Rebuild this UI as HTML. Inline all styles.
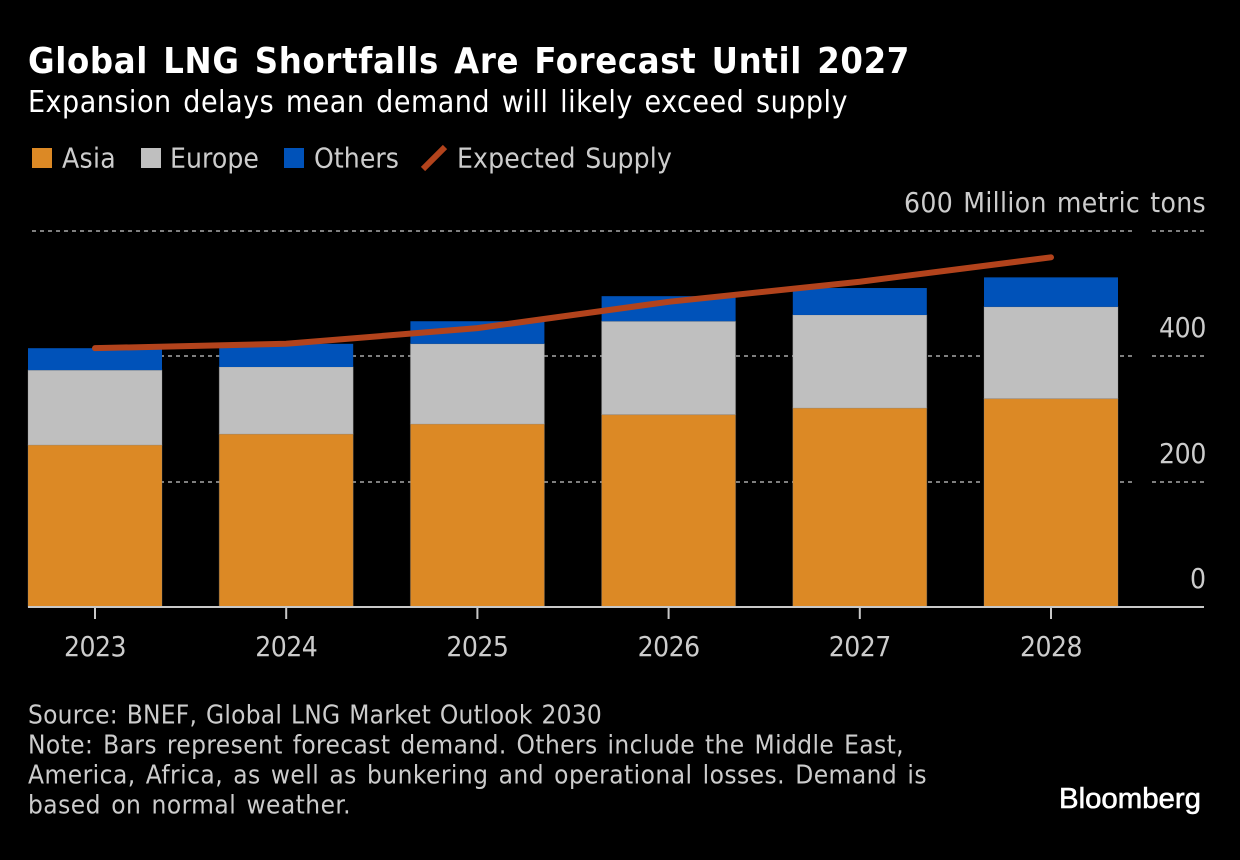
<!DOCTYPE html>
<html lang="en">
<head>
<meta charset="utf-8">
<title>Global LNG Shortfalls Are Forecast Until 2027</title>
<style>
html,body{margin:0;padding:0;background:#000;}
svg{display:block;}
text{font-family:"DejaVu Sans","Liberation Sans",sans-serif;font-stretch:condensed;}
</style>
</head>
<body>
<svg id="chart" width="1240" height="860" viewBox="0 0 1240 860" xmlns="http://www.w3.org/2000/svg">
<rect x="0" y="0" width="1240" height="860" fill="#000"/>
<text class="fit" data-w="882" x="28" y="73" font-size="36" font-weight="700" fill="#fff">Global LNG Shortfalls Are Forecast Until 2027</text>
<text class="fit" data-w="820" x="28" y="112" font-size="30" fill="#fff">Expansion delays mean demand will likely exceed supply</text>
<g>
<rect x="32" y="148" width="20" height="20" fill="#dc8925"/>
<text class="fit" data-w="54" x="62" y="167.5" font-size="28" fill="#cccccc">Asia</text>
<rect x="141" y="148" width="20" height="20" fill="#bfbfbf"/>
<text class="fit" data-w="89" x="170" y="167.5" font-size="28" fill="#cccccc">Europe</text>
<rect x="284" y="148" width="20" height="20" fill="#0052b9"/>
<text class="fit" data-w="85" x="314" y="167.5" font-size="28" fill="#cccccc">Others</text>
<line x1="423" y1="169" x2="445" y2="147" stroke="#b2431c" stroke-width="6"/>
<text class="fit" data-w="215" x="457" y="167.5" font-size="28" fill="#cccccc">Expected Supply</text>
</g>
<g id="grid"></g>
<g id="bars"></g>
<g id="axis"></g>
<g id="line"></g>
<text class="fit" data-w="574" x="28" y="723.5" font-size="26" fill="#cccccc">Source: BNEF, Global LNG Market Outlook 2030</text>
<text class="fit" data-w="876" x="28" y="753.5" font-size="26" fill="#cccccc">Note: Bars represent forecast demand. Others include the Middle East,</text>
<text class="fit" data-w="899" x="28" y="783.5" font-size="26" fill="#cccccc">America, Africa, as well as bunkering and operational losses. Demand is</text>
<text class="fit" data-w="323" x="28" y="813.5" font-size="26" fill="#cccccc">based on normal weather.</text>
<text x="1059" y="808" font-size="29" font-weight="400" fill="#fff" stroke="#fff" stroke-width="0.6" style="font-family:'Liberation Sans',sans-serif;font-stretch:normal" textLength="142" lengthAdjust="spacingAndGlyphs">Bloomberg</text>
</svg>
<script>
const years = ['2023', '2024', '2025', '2026', '2027', '2028'];
const asia = [258.5, 276, 292, 307, 317.5, 332.5];
const europe = [119.5, 107, 128, 149, 148.5, 146.5];
const others = [35, 37, 36, 40, 43, 47];
const expectedSupply = [413, 420, 445, 487, 519, 558];
const yTicks = [0, 200, 400, 600];
const yTickLabels = ['0', '200', '400', '600 Million metric tons'];
const yTickLabelWidths = [16, 47, 47, 302];

const NS = 'http://www.w3.org/2000/svg';
const plotLeft = 28, bandWidth = 191.2, barWidth = 134;
const yZero = 607, pxPerUnit = 376 / 600;
function xCenter(i) { return plotLeft + barWidth / 2 + i * bandWidth; }
function yScale(v) { return yZero - v * pxPerUnit; }
function make(tag, attrs, parent) {
  const el = document.createElementNS(NS, tag);
  for (const k in attrs) el.setAttribute(k, attrs[k]);
  parent.appendChild(el);
  return el;
}

const gridG = document.getElementById('grid');
const barsG = document.getElementById('bars');
const axisG = document.getElementById('axis');
const lineG = document.getElementById('line');

yTicks.forEach(function (t, i) {
  const y = Math.round(yScale(t));
  if (t !== 0) {
    const a = make('line', {x1: 28, x2: 1132, y1: y, y2: y, stroke: '#7f7f7f', 'stroke-width': 2, 'stroke-dasharray': '4 4', 'stroke-dashoffset': 4}, gridG);
    
    
    const b = make('line', {x1: 1152, x2: 1204, y1: y, y2: y, stroke: '#7f7f7f', 'stroke-width': 2, 'stroke-dasharray': '4 4'}, gridG);
    
    
  }
  const lab = make('text', {class: 'fit', 'data-w': yTickLabelWidths[i], x: 1206 - yTickLabelWidths[i], y: y - 19, 'font-size': 28, fill: '#cccccc'}, axisG);
  lab.textContent = yTickLabels[i];
  
  
});

years.forEach(function (yr, i) {
  const x = xCenter(i) - barWidth / 2;
  const y1 = yScale(asia[i]);
  const y2 = yScale(asia[i] + europe[i]);
  const y3 = yScale(asia[i] + europe[i] + others[i]);
  const ra = make('rect', {x: x, y: y1, width: barWidth, height: yZero - y1, fill: '#dc8925', stroke: '#8c8c8c', 'stroke-opacity': 0.3, 'stroke-width': 1}, barsG);
  
  
  const re = make('rect', {x: x, y: y2, width: barWidth, height: y1 - y2, fill: '#bfbfbf', stroke: '#8c8c8c', 'stroke-opacity': 0.3, 'stroke-width': 1}, barsG);
  
  
  const ro = make('rect', {x: x, y: y3, width: barWidth, height: y2 - y3, fill: '#0052b9'}, barsG);
  
  
  const cx = xCenter(i);
  const tick = make('line', {x1: cx, x2: cx, y1: yZero, y2: 619, stroke: '#c8c8c8', 'stroke-width': 2}, axisG);
  
  
  const lab = make('text', {class: 'fit', 'data-w': 62, x: cx - 31, y: 656, 'font-size': 28, fill: '#cccccc'}, axisG);
  lab.textContent = yr;
  
  
});

const baseline = make('line', {x1: 28, x2: 1204, y1: yZero, y2: yZero, stroke: '#c8c8c8', 'stroke-width': 2}, axisG);



const supplyPts = expectedSupply.map(function (v, i) { return xCenter(i) + ',' + yScale(v); }).join(' ');
const supplyLine = make('polyline', {points: supplyPts, fill: 'none', stroke: '#b2431c', 'stroke-width': 6, 'stroke-linecap': 'round', 'stroke-linejoin': 'round'}, lineG);



document.querySelectorAll('text.fit').forEach(function (el) {
  const target = Number(el.getAttribute('data-w'));
  const natural = el.getComputedTextLength();
  const chars = el.textContent.length;
  const spaces = (el.textContent.match(/ /g) || []).length;
  const extra = target - natural;
  if (spaces > 0) {
    el.style.letterSpacing = (0.6 * extra / chars) + 'px';
    el.style.wordSpacing = (0.4 * extra / spaces) + 'px';
  } else {
    el.style.letterSpacing = (extra / chars) + 'px';
  }
});
</script>
</body>
</html>
